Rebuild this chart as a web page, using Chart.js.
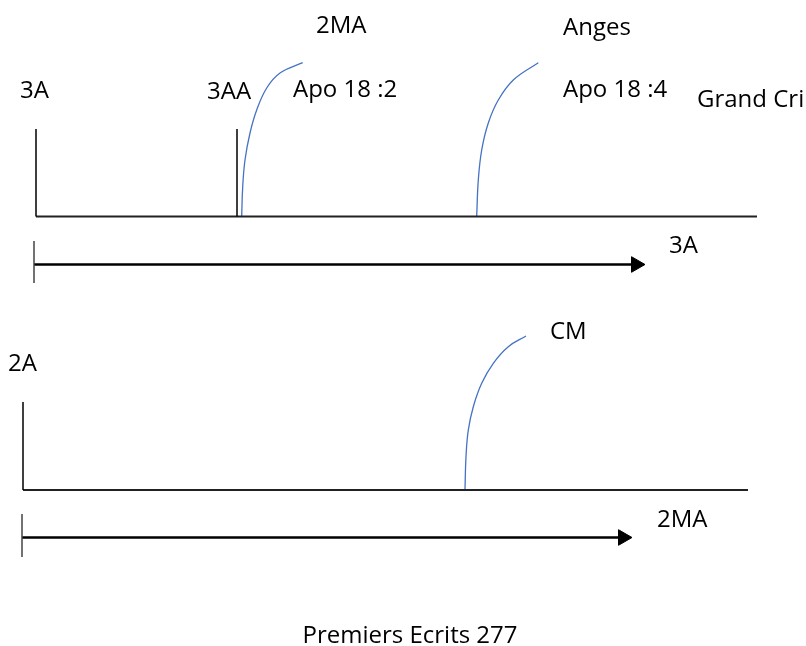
<!DOCTYPE html>
<html>
<head>
<meta charset="utf-8">
<script src="https://cdn.jsdelivr.net/npm/chart.js@4"></script>
<style>
  html, body { margin: 0; padding: 0; background: #fff; }
  #wrap { width: 806px; height: 646px; position: relative; }
</style>
</head>
<body>
<div id="wrap"><canvas id="diagram"></canvas></div>
<script>
// timeline pieces, in page units (x: 0-806, y: 0-646 from the top)
var topTicks = [[{x: 36, y: 129}, {x: 36, y: 216.5}], [{x: 237, y: 129}, {x: 237, y: 216.5}]];
var topBase = [{x: 36, y: 216.5}, {x: 757, y: 216.5}];
var bottomTick = [{x: 23, y: 402}, {x: 23, y: 490}];
var bottomBase = [{x: 23, y: 490}, {x: 748, y: 490}];

var arrowTicks = [[{x: 34, y: 241}, {x: 34, y: 283}], [{x: 22, y: 514}, {x: 22, y: 557}]];
var arrows = [[{x: 34, y: 264.5}, {x: 636, y: 264.5}], [{x: 22, y: 537.5}, {x: 623, y: 537.5}]];

// blue curves
var curve2MA = [{x: 241.7, y: 216}, {x: 242.7, y: 186.7}, {x: 245, y: 160}, {x: 250, y: 133},
  {x: 256.7, y: 110}, {x: 266.7, y: 88}, {x: 280, y: 73}, {x: 302.7, y: 62.7}];
var curveAnges = [{x: 476.7, y: 216}, {x: 478.3, y: 180}, {x: 481.7, y: 150}, {x: 488.3, y: 123},
  {x: 498.3, y: 100}, {x: 513.3, y: 80}, {x: 538.3, y: 62.7}];
var curveCM = [{x: 465, y: 489}, {x: 466, y: 456.7}, {x: 468.3, y: 430}, {x: 473.3, y: 406.7},
  {x: 481.7, y: 383.3}, {x: 493.3, y: 363.3}, {x: 508.3, y: 346.7}, {x: 526, y: 336}];

var labelTexts = ["3A", "3AA", "2MA", "Apo 18 :2", "Anges", "Apo 18 :4", "Grand Cri",
  "3A", "2A", "CM", "2MA", "Premiers Ecrits 277"];
var labelX = [20, 207, 316, 293, 563, 563, 697, 669, 8, 550, 657, 410];
var labelY = [98, 99, 33, 96.5, 35, 96.5, 106.5, 253, 370.5, 339, 526.5, 643];

function seg(pts, color, width) {
  return { data: pts, showLine: true, borderColor: color, borderWidth: width,
    pointRadius: 0, fill: false, tension: 0 };
}

var datasets = [];
topTicks.forEach(function (t) { datasets.push(seg(t, "#000", 1.5)); });
datasets.push(seg(topBase, "#222", 1.8));
datasets.push(seg(bottomTick, "#000", 1.5));
datasets.push(seg(bottomBase, "#222", 1.8));
arrowTicks.forEach(function (t) { datasets.push(seg(t, "#444", 1.5)); });
arrows.forEach(function (a) {
  var d = seg(a, "#000", 2.5);
  d.pointRadius = [0, 9];
  d.pointStyle = "triangle";
  d.rotation = 90;
  d.pointBackgroundColor = "#000";
  d.pointBorderColor = "#000";
  d.pointBorderWidth = 1;
  datasets.push(d);
});
[curve2MA, curveAnges, curveCM].forEach(function (c) {
  var d = seg(c, "#4472C4", 1.3);
  d.tension = 0.4;
  datasets.push(d);
});

var labelPlugin = {
  id: "labels",
  afterDatasetsDraw: function (chart) {
    var ctx = chart.ctx, xs = chart.scales.x, ys = chart.scales.y;
    ctx.save();
    ctx.font = '24px "Open Sans"';
    ctx.fillStyle = "#000";
    ctx.textBaseline = "alphabetic";
    for (var i = 0; i < labelTexts.length; i++) {
      ctx.textAlign = i === labelTexts.length - 1 ? "center" : "left";
      ctx.fillText(labelTexts[i], xs.getPixelForValue(labelX[i]), ys.getPixelForValue(labelY[i]));
    }
    ctx.restore();
  }
};

new Chart(document.getElementById("diagram"), {
  type: "scatter",
  data: { datasets: datasets },
  options: {
    responsive: true,
    maintainAspectRatio: false,
    animation: false,
    layout: { padding: 0, autoPadding: false },
    plugins: { legend: { display: false }, tooltip: { enabled: false } },
    scales: {
      x: { type: "linear", min: 0, max: 806, display: false },
      y: { type: "linear", min: 0, max: 646, reverse: true, display: false }
    }
  },
  plugins: [labelPlugin]
});
</script>
</body>
</html>
